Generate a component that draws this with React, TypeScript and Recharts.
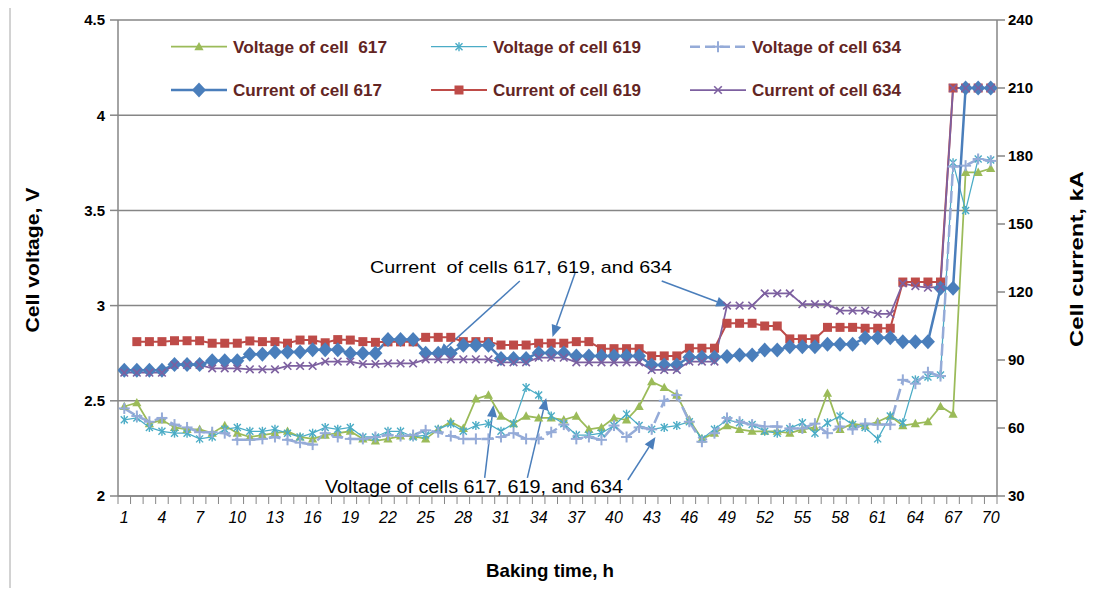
import React from 'react';
import { ComposedChart, Line, XAxis, YAxis, CartesianGrid, ReferenceLine } from 'recharts';

// ---------- data ----------
const hours = [
  1, 2, 3, 4, 5, 6, 7, 8, 9, 10, 11, 12, 13, 14, 15, 16, 17, 18, 19, 20,
  21, 22, 23, 24, 25, 26, 27, 28, 29, 30, 31, 32, 33, 34, 35, 36, 37, 38, 39, 40,
  41, 42, 43, 44, 45, 46, 47, 48, 49, 50, 51, 52, 53, 54, 55, 56, 57, 58, 59, 60,
  61, 62, 63, 64, 65, 66, 67, 68, 69, 70,
];
const tickLabels = [1, 4, 7, 10, 13, 16, 19, 22, 25, 28, 31, 34, 37, 40, 43, 46, 49, 52, 55, 58, 61, 64, 67, 70];
const voltageTicks = [2, 2.5, 3, 3.5, 4, 4.5];
const currentTicks = [30, 60, 90, 120, 150, 180, 210, 240];

const voltage617 = [
  2.47, 2.49, 2.38, 2.40, 2.36, 2.35, 2.35, 2.33, 2.37, 2.33,
  2.31, 2.32, 2.33, 2.34, 2.31, 2.30, 2.32, 2.33, 2.34, 2.30,
  2.29, 2.30, 2.315, 2.315, 2.30, 2.35, 2.39, 2.355, 2.51, 2.53,
  2.42, 2.38, 2.42, 2.41, 2.41, 2.40, 2.42, 2.35, 2.36, 2.41,
  2.40, 2.47, 2.60, 2.57, 2.53, 2.40, 2.30, 2.33, 2.37, 2.35,
  2.34, 2.34, 2.34, 2.33, 2.35, 2.36, 2.54, 2.35, 2.38, 2.37,
  2.39, 2.42, 2.37, 2.38, 2.39, 2.47, 2.43, 3.70, 3.70, 3.72,
];
const voltage619 = [
  2.40, 2.41, 2.36, 2.34, 2.33, 2.33, 2.30, 2.31, 2.35, 2.36,
  2.34, 2.34, 2.35, 2.33, 2.31, 2.33, 2.36, 2.35, 2.36, 2.31,
  2.31, 2.34, 2.34, 2.31, 2.32, 2.35, 2.38, 2.34, 2.37, 2.38,
  2.34, 2.38, 2.57, 2.53, 2.42, 2.38, 2.32, 2.32, 2.33, 2.37,
  2.43, 2.37, 2.35, 2.36, 2.37, 2.39, 2.30, 2.35, 2.40, 2.385,
  2.375, 2.34, 2.33, 2.355, 2.385, 2.33, 2.385, 2.42, 2.375, 2.36,
  2.30, 2.42, 2.385, 2.61, 2.625, 2.635, 3.75, 3.50, 3.77, 3.765,
];
const voltage634 = [
  2.46, 2.42, 2.39, 2.41, 2.375, 2.36, 2.335, 2.335, 2.33, 2.295,
  2.295, 2.30, 2.31, 2.295, 2.28, 2.27, 2.33, 2.31, 2.30, 2.30,
  2.31, 2.32, 2.315, 2.32, 2.345, 2.335, 2.315, 2.30, 2.30, 2.30,
  2.31, 2.33, 2.30, 2.30, 2.335, 2.375, 2.30, 2.31, 2.295, 2.37,
  2.31, 2.36, 2.35, 2.50, 2.53, 2.39, 2.285, 2.33, 2.41, 2.39,
  2.375, 2.365, 2.365, 2.355, 2.355, 2.38, 2.33, 2.365, 2.35, 2.38,
  2.375, 2.375, 2.61, 2.59, 2.65, 2.63, 3.73, 3.735, 3.77, 3.76,
];
const current617 = [
  85.5, 85.5, 85.5, 85.5, 88, 88, 88, 89.7, 89.7, 89.7,
  92.5, 92.5, 93.5, 93.5, 93.5, 94.5, 94.5, 94.5, 93, 93,
  93, 99, 99, 99, 93, 93, 93, 96.5, 96.5, 96.5,
  90.7, 90.7, 90.7, 93.1, 93.1, 93.1, 91.8, 91.8, 91.8, 91.8,
  91.8, 91.8, 87.8, 87.8, 87.8, 91.2, 91.2, 91.2, 91.5, 92.2,
  92.2, 94.4, 94.4, 95.9, 95.9, 95.9, 96.9, 96.9, 96.9, 99.8,
  99.8, 99.8, 98.1, 98.1, 98.1, 121.6, 121.6, 210, 210, 210,
];
const current619 = [
  null, 98.1, 98.1, 98.1, 98.5, 98.5, 98.5, 97.4, 97.4, 97.4,
  98.4, 98.1, 98.1, 97.4, 98.8, 98.8, 97.6, 99, 98.8, 98.1,
  97.8, 98, 98, 98, 100, 100, 100, 98.1, 98.1, 98.1,
  96.6, 96.6, 96.6, 97.4, 97.4, 97.4, 98.1, 98.1, 95, 95,
  95, 95, 91.8, 91.8, 91.8, 95.2, 95.2, 95.2, 106.2, 106.2,
  106.2, 105, 105, 99.3, 99.3, 99.3, 104.4, 104.4, 104.4, 104,
  104, 104, 124.4, 124.4, 124.4, 124.4, 210, 210, 210, 210,
];
const current634 = [
  84.4, 84.4, 84.4, 84.4, 87.8, 87.8, 87.8, 86.3, 86.3, 86.3,
  85.9, 85.9, 85.9, 87.4, 87.4, 87.4, 89.3, 89.3, 89.3, 88.2,
  88.2, 88.5, 88.5, 88.5, 90.3, 90.3, 90.3, 90.3, 90.3, 90.3,
  89, 89, 89, 91, 91, 91, 89, 89, 89, 89,
  89, 89, 85.6, 85.6, 85.6, 89.3, 89.3, 89.3, 114, 114,
  114, 119.4, 119.4, 119.4, 114.6, 114.6, 114.6, 111.8, 111.8, 111.8,
  110.3, 110.3, 123.8, 122.6, 121.9, 122.3, 210, 210, 210, 210,
];

const data = hours.map((h, i) => ({
  hour: h,
  v617: voltage617[i],
  v619: voltage619[i],
  v634: voltage634[i],
  c617: current617[i],
  c619: current619[i],
  c634: current634[i],
}));

// ---------- styling ----------
const W = 1085;
const H = 580;
const FONT = "'Liberation Sans', Arial, sans-serif";
const GRID = '#868686';
const LEGEND_TEXT = '#632523';
const ARROW = '#4A7EBB';

type Shape = 'triangle' | 'star' | 'plus' | 'diamond' | 'square' | 'cross';

interface SeriesDef {
  key: string;
  name: string;
  axis: 'v' | 'c';
  color: string;
  width: number;
  shape: Shape;
  dash?: string;
  textWidth: number;
}

const series: SeriesDef[] = [
  { key: 'v617', name: 'Voltage of cell  617', axis: 'v', color: '#9BBB59', width: 1.75, shape: 'triangle', textWidth: 154 },
  { key: 'v619', name: 'Voltage of cell 619', axis: 'v', color: '#4BACC6', width: 1.25, shape: 'star', textWidth: 148 },
  { key: 'v634', name: 'Voltage of cell 634', axis: 'v', color: '#95ABD8', width: 2.5, shape: 'plus', dash: '12 5', textWidth: 149 },
  { key: 'c617', name: 'Current of cell 617', axis: 'c', color: '#4A7EBB', width: 2.5, shape: 'diamond', textWidth: 149 },
  { key: 'c619', name: 'Current of cell 619', axis: 'c', color: '#BE4B48', width: 2, shape: 'square', textWidth: 148 },
  { key: 'c634', name: 'Current of cell 634', axis: 'c', color: '#7D60A0', width: 1.75, shape: 'cross', textWidth: 149 },
];
// draw order (last on top)
const drawOrder = ['v617', 'v619', 'v634', 'c619', 'c617', 'c634'];

function marker(shape: Shape, color: string, cx: number, cy: number, key?: string) {
  switch (shape) {
    case 'triangle':
      return <polygon key={key} points={`${cx},${cy - 4.8} ${cx + 4.6},${cy + 3.6} ${cx - 4.6},${cy + 3.6}`} fill={color} />;
    case 'star':
      return (
        <g key={key} stroke={color} strokeWidth={1.4}>
          <line x1={cx - 3.5} y1={cy - 3.5} x2={cx + 3.5} y2={cy + 3.5} />
          <line x1={cx - 3.5} y1={cy + 3.5} x2={cx + 3.5} y2={cy - 3.5} />
          <line x1={cx} y1={cy - 4.5} x2={cx} y2={cy + 4.5} />
        </g>
      );
    case 'plus':
      return (
        <g key={key} stroke={color} strokeWidth={2}>
          <line x1={cx - 5.5} y1={cy} x2={cx + 5.5} y2={cy} />
          <line x1={cx} y1={cy - 5.5} x2={cx} y2={cy + 5.5} />
        </g>
      );
    case 'diamond':
      return <polygon key={key} points={`${cx},${cy - 7.5} ${cx + 7},${cy} ${cx},${cy + 7.5} ${cx - 7},${cy}`} fill={color} />;
    case 'square':
      return <rect key={key} x={cx - 4.5} y={cy - 4.5} width={9} height={9} fill={color} />;
    case 'cross':
    default:
      return (
        <g key={key} stroke={color} strokeWidth={1.6}>
          <line x1={cx - 3.8} y1={cy - 3.8} x2={cx + 3.8} y2={cy + 3.8} />
          <line x1={cx - 3.8} y1={cy + 3.8} x2={cx + 3.8} y2={cy - 3.8} />
        </g>
      );
  }
}

const xTicks = hours.flatMap((h) => [h - 0.5, h]).concat([hours[hours.length - 1] + 0.5]);

const XTick = (props: any) => {
  const { x, y, payload } = props;
  const v = payload?.value;
  if (typeof v !== 'number') return <g />;
  if (Number.isInteger(v)) {
    if (!tickLabels.includes(v)) return <g />;
    return (
      <text x={x} y={y + 18.5} textAnchor="middle" fontFamily={FONT} fontSize={16} fontStyle="italic" fill="#000">
        {v}
      </text>
    );
  }
  return <line x1={x} x2={x} y1={y - 8} y2={y} stroke={GRID} strokeWidth={1} />;
};

const Arrow = (p: any) => {
  const { x1, y1, x2, y2 } = p;
  if ([x1, y1, x2, y2].some((v) => typeof v !== 'number' || isNaN(v))) return <g />;
  const ang = Math.atan2(y2 - y1, x2 - x1);
  const L = 12;
  const hw = 5;
  const bx = x2 - L * Math.cos(ang);
  const by = y2 - L * Math.sin(ang);
  const px = -Math.sin(ang) * hw;
  const py = Math.cos(ang) * hw;
  return (
    <g>
      <line x1={x1} y1={y1} x2={bx} y2={by} stroke={ARROW} strokeWidth={1.5} />
      <polygon points={`${x2},${y2} ${bx + px},${by + py} ${bx - px},${by - py}`} fill={ARROW} />
    </g>
  );
};

// annotation arrows (hour, volt) pairs: start -> head
const arrowSegments = [
  [{ x: 32.5, y: 3.129 }, { x: 26.0, y: 2.741 }],
  [{ x: 36.9, y: 3.171 }, { x: 35.1, y: 2.835 }],
  [{ x: 43.8, y: 3.129 }, { x: 49.1, y: 2.998 }],
  [{ x: 29.7, y: 2.095 }, { x: 30.4, y: 2.478 }],
  [{ x: 33.1, y: 2.095 }, { x: 34.6, y: 2.515 }],
  [{ x: 41.1, y: 2.084 }, { x: 43.3, y: 2.31 }],
];

const legendCols = [163, 423, 682];
const legendRows = [38.7, 82];

export default function App() {
  const byKey: Record<string, SeriesDef> = {};
  series.forEach((s) => (byKey[s.key] = s));
  return (
    <div style={{ position: 'relative', width: W, height: H }}>
      <ComposedChart width={W} height={H} data={data} margin={{ top: 12, right: 36, bottom: 52, left: 50 }}>
        <CartesianGrid yAxisId="v" vertical={false} stroke={GRID} strokeWidth={1.5} />
        <XAxis
          dataKey="hour"
          type="number"
          domain={[0.5, 70.5]}
          ticks={xTicks}
          interval={0}
          allowDataOverflow
          tick={(p: any) => <XTick {...p} />}
          tickLine={false}
          tickSize={8}
          tickMargin={0}
          axisLine={{ stroke: GRID, strokeWidth: 1.5 }}
          height={40}
        />
        <YAxis
          yAxisId="v"
          domain={[2, 4.5]}
          ticks={voltageTicks}
          interval={0}
          allowDataOverflow
          width={60}
          tickSize={8}
          tickMargin={5}
          axisLine={{ stroke: GRID, strokeWidth: 1.5 }}
          tickLine={{ stroke: GRID, strokeWidth: 1.5 }}
          tick={{ fill: '#000', fontSize: 15, fontWeight: 700, fontFamily: FONT }}
        />
        <YAxis
          yAxisId="c"
          orientation="right"
          domain={[30, 240]}
          ticks={currentTicks}
          interval={0}
          allowDataOverflow
          width={60}
          tickSize={8}
          tickMargin={3}
          axisLine={{ stroke: GRID, strokeWidth: 1.5 }}
          tickLine={{ stroke: GRID, strokeWidth: 1.5 }}
          tick={{ fill: '#000', fontSize: 15, fontWeight: 700, fontFamily: FONT, textAnchor: 'start' }}
        />
        {drawOrder.map((k) => {
          const s = byKey[k];
          return (
            <Line
              key={s.key}
              type="linear"
              dataKey={s.key}
              name={s.name}
              yAxisId={s.axis}
              stroke={s.color}
              strokeWidth={s.width}
              strokeDasharray={s.dash}
              connectNulls={false}
              activeDot={false}
              isAnimationActive={false}
              dot={(p: any) => {
                const key = `${s.key}-${p.index}`;
                if (p.cx == null || p.cy == null || p.value == null || isNaN(p.cy)) return <g key={key} />;
                return marker(s.shape, s.color, p.cx, p.cy, key);
              }}
            />
          );
        })}
        {arrowSegments.map((seg, i) => (
          <ReferenceLine key={`arrow-${i}`} yAxisId="v" segment={seg} ifOverflow="visible" shape={(p: any) => <Arrow {...p} />} />
        ))}
      </ComposedChart>
      <svg
        width={W}
        height={H}
        style={{ position: 'absolute', left: 0, top: 0, pointerEvents: 'none', overflow: 'visible' }}
      >
        <line x1={2} y1={-8} x2={2} y2={H + 8} stroke="#A6A6A6" strokeWidth={1} />
        {series.map((s, i) => {
          const col = i % 3;
          const row = Math.floor(i / 3);
          const lx = legendCols[col];
          const ly = legendRows[row];
          return (
            <g key={`leg-${s.key}`}>
              <line x1={lx} y1={ly} x2={lx + 56} y2={ly} stroke={s.color} strokeWidth={s.width} strokeDasharray={s.dash ? '10 5' : undefined} />
              {marker(s.shape, s.color, lx + 28, ly)}
              <text
                x={lx + 62}
                y={ly + 6}
                fontFamily={FONT}
                fontSize={17}
                fontWeight={700}
                fill={LEGEND_TEXT}
                textLength={s.textWidth}
                lengthAdjust="spacingAndGlyphs"
                style={{ whiteSpace: 'pre' }}
              >
                {s.name}
              </text>
            </g>
          );
        })}
        <text x={362} y={265} fontFamily={FONT} fontSize={17} fill="#000" textLength={302} lengthAdjust="spacingAndGlyphs" style={{ whiteSpace: 'pre' }}>
          {'Current  of cells 617, 619, and 634'}
        </text>
        <text x={317} y={485} fontFamily={FONT} fontSize={18} fill="#000" textLength={298} lengthAdjust="spacingAndGlyphs">
          Voltage of cells 617, 619, and 634
        </text>
        <text
          transform="translate(31,252) rotate(-90)"
          textAnchor="middle"
          fontFamily={FONT}
          fontSize={19}
          fontWeight={700}
          fill="#000"
          textLength={145}
          lengthAdjust="spacingAndGlyphs"
        >
          Cell voltage, V
        </text>
        <text
          transform="translate(1075,251) rotate(-90)"
          textAnchor="middle"
          fontFamily={FONT}
          fontSize={19}
          fontWeight={700}
          fill="#000"
          textLength={176}
          lengthAdjust="spacingAndGlyphs"
        >
          Cell current, kA
        </text>
        <text x={542} y={569} textAnchor="middle" fontFamily={FONT} fontSize={19} fontWeight={700} fill="#000" textLength={128} lengthAdjust="spacingAndGlyphs">
          Baking time, h
        </text>
      </svg>
    </div>
  );
}
